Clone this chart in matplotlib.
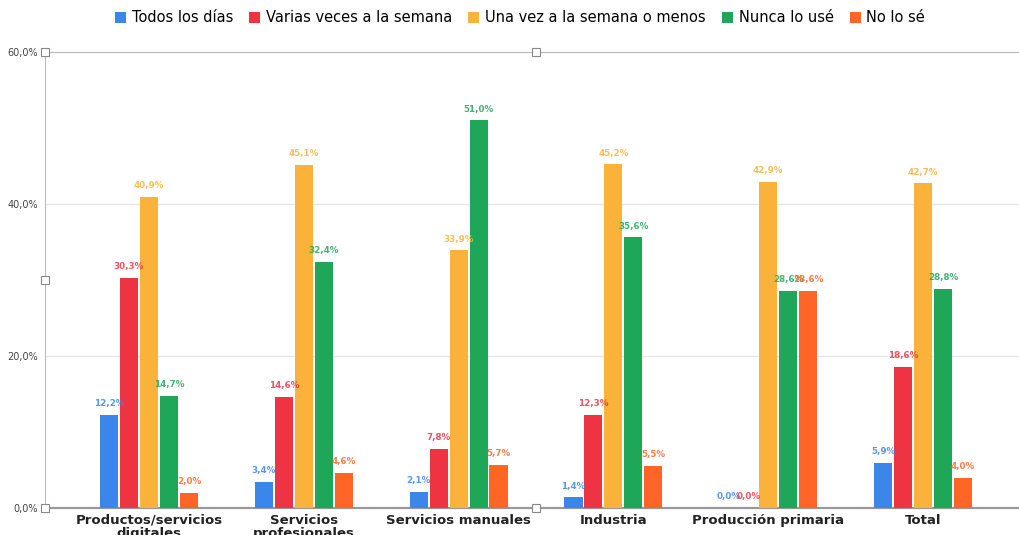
import matplotlib.pyplot as plt
import numpy as np

categories = ["Productos/servicios\ndigitales", "Servicios\nprofesionales", "Servicios manuales",
              "Industria", "Producción primaria", "Total"]
series_names = ["Todos los días", "Varias veces a la semana", "Una vez a la semana o menos",
                "Nunca lo usé", "No lo sé"]
todos_los_dias = [12.2, 3.4, 2.1, 1.4, 0.0, 5.9]
varias_veces = [30.3, 14.6, 7.8, 12.3, 0.0, 18.6]
una_vez = [40.9, 45.1, 33.9, 45.2, 42.9, 42.7]
nunca = [14.7, 32.4, 51.0, 35.6, 28.6, 28.8]
no_lo_se = [2.0, 4.6, 5.7, 5.5, 28.6, 4.0]
y_ticks = [0, 20, 40, 60]

colors = ["#3a86ea", "#ee3342", "#fbb23a", "#1ea659", "#ff6526"]
series = [todos_los_dias, varias_veces, una_vez, nunca, no_lo_se]

fig = plt.figure(figsize=(10.2, 5.35), dpi=100)
W, H = 1020, 535
ax = fig.add_axes([45 / W, 1 - 508 / H, 982 / W, 456 / H])

x = np.arange(len(categories))
pitch = 0.129
width = 0.117
for k, (vals, c, name) in enumerate(zip(series, colors, series_names)):
    pos = x + (k - 2) * pitch
    ax.bar(pos, vals, width=width, color=c, label=name, zorder=3)
    for p, v in zip(pos, vals):
        ax.text(p, v + 0.9, f"{v:.1f}%".replace(".", ","), ha="center", va="bottom",
                fontsize=6.3, fontweight="bold", color=c, alpha=0.85, zorder=4)

ax.set_xlim(-0.672, 5.672)
ax.set_ylim(0, 60)
ax.set_yticks(y_ticks)
ax.set_yticklabels([f"{t:.1f}%".replace(".", ",") for t in y_ticks], fontsize=7,
                   color="#444444")
ax.tick_params(axis="y", length=0, pad=5)
ax.tick_params(axis="x", length=0, pad=4)
ax.set_xticks(x)
ax.set_xticklabels(categories, fontsize=9.5, fontweight="bold", color="#222222",
                   linespacing=1.0, va="top")
ax.grid(axis="y", color="#e6e6e6", lw=1, zorder=0)
ax.spines["right"].set_visible(False)
ax.spines["left"].set_color("#bbbbbb")
ax.spines["top"].set_color("#bbbbbb")
ax.spines["bottom"].set_color("#999999")
ax.spines["bottom"].set_linewidth(1.6)

# selection handles of the chart frame
hx = [0, 0.5, 0, 0, 0.5]
hy = [1, 1, 0.5, 0, 0]
ax.plot(hx, hy, ls="none", marker="s", ms=6, mfc="white", mec="#888888", mew=0.8,
        transform=ax.transAxes, clip_on=False, zorder=5)

fig.legend(loc="center", bbox_to_anchor=(0.51, 1 - 18 / H), ncol=5, frameon=False,
           fontsize=10.5, handlelength=0.75, handleheight=0.75, handletextpad=0.4,
           columnspacing=1.1)

fig.savefig("out.png", dpi=100)
